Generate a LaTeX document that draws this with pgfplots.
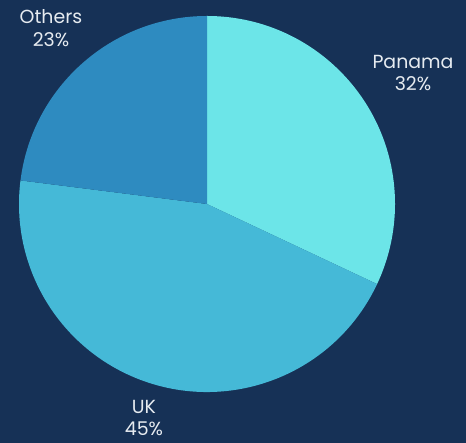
\documentclass[border=0pt]{standalone}
\usepackage{pgfplots}
\usepackage{pgfplotstable}
\pgfplotsset{compat=1.18}
\usetikzlibrary{calc}
\usepackage{fontspec}
\setmainfont{Poppins}
\definecolor{bg}{HTML}{163156}
\definecolor{c0}{HTML}{6CE5E8}
\definecolor{c1}{HTML}{45B9D7}
\definecolor{c2}{HTML}{2E8BC0}
\definecolor{txt}{HTML}{E6EBF0}
\pgfplotstableread{
label value
Panama 32
UK 45
Others 23
}\piedata
\begin{document}
\begin{tikzpicture}
\begin{axis}[
  x=1bp, y=1bp,
  xmin=0, xmax=466, ymin=0, ymax=443,
  hide axis, clip=false,
]
\fill[bg] (axis cs:0,0) rectangle (axis cs:466,443);
\def\cx{207}\def\cy{239}\def\rad{188}
\pgfmathsetmacro\curang{90}
\pgfplotsinvokeforeach{0,1,2}{
  \pgfplotstablegetelem{#1}{value}\of\piedata
  \pgfmathsetmacro\sweep{3.6*\pgfplotsretval}
  \pgfmathsetmacro\endang{\curang-\sweep}
  \edef\temp{\noexpand\fill[c#1] (axis cs:\cx,\cy) -- ($(axis cs:\cx,\cy)+(\curang:\rad bp)$) arc[start angle=\curang, end angle=\endang, radius=\rad bp] -- cycle;}
  \temp
  \global\let\curang\endang
}
\node[txt, align=center, font=\fontsize{19}{23}\selectfont] at (axis cs:413,370) {Panama\\32\%};
\node[txt, align=center, font=\fontsize{19}{23}\selectfont] at (axis cs:51,415) {Others\\23\%};
\node[txt, align=center, font=\fontsize{19}{23}\selectfont] at (axis cs:144,25) {UK\\45\%};
\end{axis}
\end{tikzpicture}
\end{document}
